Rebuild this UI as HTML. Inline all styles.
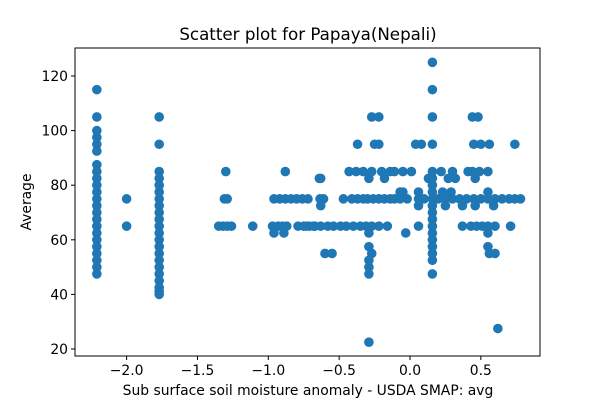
<!DOCTYPE html>
<html><head><meta charset="utf-8"><style>
body{margin:0;background:#fff;font-family:"Liberation Sans","DejaVu Sans",sans-serif}
svg text{font-family:"DejaVu Sans","Liberation Sans",sans-serif;font-size:13.9px;fill:#000}
</style></head><body>
<svg id="chart" width="600" height="400" xmlns="http://www.w3.org/2000/svg">
<rect width="600" height="400" fill="#fff"/>
<text x="308" y="40" text-anchor="middle" style="font-size:16.7px">Scatter plot for Papaya(Nepali)</text>
<text x="308" y="395" text-anchor="middle">Sub surface soil moisture anomaly - USDA SMAP: avg</text>
<text transform="translate(31,202) rotate(-90)" text-anchor="middle">Average</text>
<g id="points"></g>
<g id="axes"></g>
</svg>
<script>
const xVals = [
-2.21,-2.21,-2.21,-2.21,-2.21,-2.21,-2.21,-2.21,-2.21,-2.21,-2.21,-2.21,-2.21,-2.21,-2.21,-2.21,-2.21,-2.21,-2.21,-2.21,-2.21,-2.21,-2.21,
-2.0,-2.0,
-1.77,-1.77,-1.77,-1.77,-1.77,-1.77,-1.77,-1.77,-1.77,-1.77,-1.77,-1.77,-1.77,-1.77,-1.77,-1.77,-1.77,-1.77,-1.77,-1.77,-1.77,-1.77,
-1.3,-1.31,-1.29,-1.35,-1.32,-1.29,-1.26,-1.11,
-0.88,-0.96,-0.92,-0.88,-0.84,-0.97,-0.93,-0.9,-0.87,-0.96,-0.89,-0.8,-0.76,-0.72,-0.79,-0.75,-0.71,-0.67,-0.64,
-0.635,-0.61,-0.47,-0.41,-0.37,-0.33,-0.3,-0.26,-0.22,-0.18,-0.14,-0.11,-0.07,-0.02,0.06,0.1,0.2,0.25,0.3,0.35,0.4,0.45,0.5,0.55,0.6,0.65,0.7,0.74,0.78,
-0.73,-0.68,-0.63,-0.58,-0.54,-0.49,-0.45,-0.4,-0.35,-0.31,-0.27,-0.22,-0.16,0.06,0.37,0.43,0.47,0.51,0.55,0.6,0.71,
-0.43,-0.38,-0.33,-0.27,-0.2,-0.14,-0.11,-0.05,0.01,0.22,0.3,0.41,0.44,0.49,0.55,
-0.63,-0.29,-0.18,0.13,0.27,0.32,0.46,
-0.07,-0.05,0.06,0.23,0.29,0.55,
-0.63,0.06,0.25,0.37,0.46,0.59,
-0.29,-0.03,0.55,
-0.29,0.55,-0.6,-0.55,-0.27,0.56,0.6,
-0.25,-0.22,-0.37,0.04,0.08,0.45,0.5,0.56,0.74,
-0.27,-0.22,0.44,0.48,
-0.29,-0.29,-0.29,-0.29,
0.158,0.158,0.158,0.158,0.158,0.158,0.158,0.158,0.158,0.158,0.158,0.158,0.158,0.158,0.158,0.158,0.158,0.158,0.158,
0.62
];
const yVals = [
115,105,100,97.5,95,92.5,87.5,85,82.5,80,77.5,75,72.5,70,67.5,65,62.5,60,57.5,55,52.5,50,47.5,
75,65,
105,95,85,82.5,80,77.5,75,72.5,70,67.5,65,62.5,60,57.5,55,52.5,50,47.5,45,42.5,41,40,
85,75,75,65,65,65,65,65,
85,75,75,75,75,65,65,65,65,62.5,62.5,75,75,75,65,65,65,65,82.5,
75,75,75,75,75,75,75,75,75,75,75,75,75,75,75,75,75,75,75,75,75,75,75,75,75,75,75,75,75,
65,65,65,65,65,65,65,65,65,65,65,65,65,65,65,65,65,65,65,65,65,
85,85,85,85,85,85,85,85,85,85,85,85,85,85,85,
82.5,82.5,82.5,82.5,82.5,82.5,82.5,
77.5,77.5,77.5,77.5,77.5,77.5,
72.5,72.5,72.5,72.5,72.5,72.5,
62.5,62.5,62.5,
57.5,57.5,55,55,55,55,55,
95,95,95,95,95,95,95,95,95,
105,105,105,105,
50,47.5,52.5,22.5,
125,115,105,95,85,82.5,80,77.5,75,72.5,70,67.5,65,62.5,60,57.5,55,52.5,47.5,
27.5
];
const xTicks = [-2.0,-1.5,-1.0,-0.5,0.0,0.5];
const xTickLabels = ["\u22122.0","\u22121.5","\u22121.0","\u22120.5","0.0","0.5"];
const yTicks = [20,40,60,80,100,120];
const yTickLabels = ["20","40","60","80","100","120"];

const L=75,R=540,T=48,B=356;
function sx(v){return 410+v*141.7;}
function sy(v){return 349-(v-20)*2.73;}
const NS="http://www.w3.org/2000/svg";
const pg=document.getElementById('points');
for(let i=0;i<xVals.length;i++){
  const c=document.createElementNS(NS,'circle');
  c.setAttribute('cx',sx(xVals[i]));c.setAttribute('cy',sy(yVals[i]));
  c.setAttribute('r',4.8);c.setAttribute('fill','#1f77b4');
  
  
  pg.appendChild(c);
}
const ag=document.getElementById('axes');
const fr=document.createElementNS(NS,'rect');
fr.setAttribute('x',L);fr.setAttribute('y',T);fr.setAttribute('width',R-L);fr.setAttribute('height',B-T);
fr.setAttribute('fill','none');fr.setAttribute('stroke','#000');fr.setAttribute('stroke-width','1');


ag.appendChild(fr);
xTicks.forEach((t,i)=>{
  const x=sx(t);
  const l=document.createElementNS(NS,'line');
  l.setAttribute('x1',x);l.setAttribute('x2',x);l.setAttribute('y1',B);l.setAttribute('y2',B+4);l.setAttribute('stroke','#000');
  
  
  ag.appendChild(l);
  const tx=document.createElementNS(NS,'text');
  tx.setAttribute('x',x);tx.setAttribute('y',B+19);tx.setAttribute('text-anchor','middle');
  tx.textContent=xTickLabels[i];
  
  
  ag.appendChild(tx);
});
yTicks.forEach((t,i)=>{
  const y=sy(t);
  const l=document.createElementNS(NS,'line');
  l.setAttribute('x1',L-4);l.setAttribute('x2',L);l.setAttribute('y1',y);l.setAttribute('y2',y);l.setAttribute('stroke','#000');
  
  
  ag.appendChild(l);
  const tx=document.createElementNS(NS,'text');
  tx.setAttribute('x',L-7);tx.setAttribute('y',y+5);tx.setAttribute('text-anchor','end');
  tx.textContent=yTickLabels[i];
  
  
  ag.appendChild(tx);
});
</script>
</body></html>
